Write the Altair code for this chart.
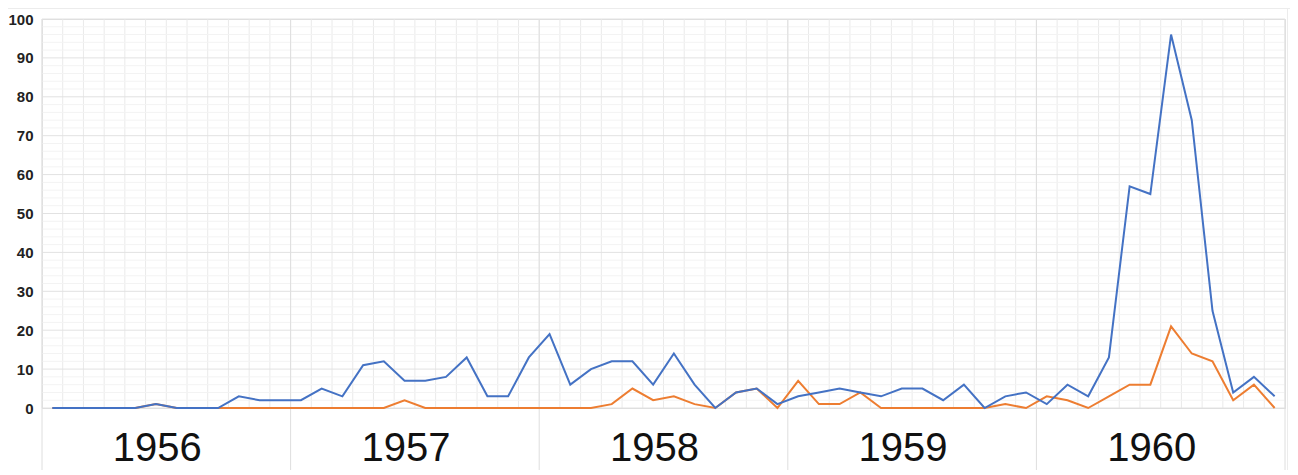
import altair as alt
import pandas as pd

# Monthly values, Jan 1956 .. Dec 1960
blue = [0, 0, 0, 0, 0, 1, 0, 0, 0, 3, 2, 2,
        2, 5, 3, 11, 12, 7, 7, 8, 13, 3, 3, 13,
        19, 6, 10, 12, 12, 6, 14, 6, 0, 4, 5, 1,
        3, 4, 5, 4, 3, 5, 5, 2, 6, 0, 3, 4,
        1, 6, 3, 13, 57, 55, 96, 74, 25, 4, 8, 3]
orange = [0, 0, 0, 0, 0, 1, 0, 0, 0, 0, 0, 0,
          0, 0, 0, 0, 0, 2, 0, 0, 0, 0, 0, 0,
          0, 0, 0, 1, 5, 2, 3, 1, 0, 4, 5, 0,
          7, 1, 1, 4, 0, 0, 0, 0, 0, 0, 1, 0,
          3, 2, 0, 3, 6, 6, 21, 14, 12, 2, 6, 0]
years = ["1956", "1957", "1958", "1959", "1960"]
y_ticks = list(range(0, 101, 10))
y_minor = [v for v in range(0, 101, 2) if v % 10]

W, H = 1243, 389
FONT = "Liberation Sans Narrow, Arial Narrow, Liberation Sans, Arial, sans-serif"

n = len(blue)
xscale = alt.Scale(domain=[0, n], nice=False, zero=False)
yscale = alt.Scale(domain=[0, 100], nice=False)
yaxis = alt.Axis(values=y_ticks, grid=False, ticks=False, domain=False, title=None,
                 labelFont=FONT, labelFontWeight="bold", labelFontSize=15,
                 labelColor="#222222", labelPadding=9)

blue_df = pd.DataFrame({"m": list(range(n)), "v": blue})
orange_df = pd.DataFrame({"m": list(range(n)), "v": orange})
vgrid_df = pd.DataFrame({"g": list(range(n + 1))})
sep_df = pd.DataFrame({"g": list(range(0, n + 1, 12))})
hmaj_df = pd.DataFrame({"t": y_ticks})
hmin_df = pd.DataFrame({"t": y_minor})
year_df = pd.DataFrame({"year": years, "idx": list(range(len(years)))})

# faint chart border (top and right)
border_top = alt.Chart(hmaj_df).mark_rule(color="#ececec", strokeWidth=1).encode(
    x=alt.value(-34), x2=alt.value(W + 5), y=alt.value(-10.5))
border_right = alt.Chart(hmaj_df).mark_rule(color="#ececec", strokeWidth=1).encode(
    x=alt.value(W + 2.5), y=alt.value(-11), y2=alt.value(H + 80))

vgrid = alt.Chart(vgrid_df).mark_rule(color="#eaeaea", strokeWidth=1).encode(
    x=alt.X("g:Q", scale=xscale, axis=None), y=alt.value(0), y2=alt.value(H))
hminor = alt.Chart(hmin_df).mark_rule(color="#f3f3f3", strokeWidth=1).encode(
    y=alt.Y("t:Q", scale=yscale, axis=yaxis), x=alt.value(0), x2=alt.value(W))
hmajor = alt.Chart(hmaj_df).mark_rule(color="#e2e2e2", strokeWidth=1).encode(
    y=alt.Y("t:Q", scale=yscale, axis=yaxis), x=alt.value(0), x2=alt.value(W))
seps = alt.Chart(sep_df).mark_rule(color="#dedede", strokeWidth=1).encode(
    x=alt.X("g:Q", scale=xscale, axis=None), y=alt.value(0), y2=alt.value(H + 80))

line_orange = alt.Chart(orange_df).transform_calculate(xp="datum.m + 0.5").mark_line(
    color="#ED7D31", strokeWidth=2).encode(
    x=alt.X("xp:Q", scale=xscale, axis=None),
    y=alt.Y("v:Q", scale=yscale, axis=yaxis))
line_blue = alt.Chart(blue_df).transform_calculate(xp="datum.m + 0.5").mark_line(
    color="#4472C4", strokeWidth=2).encode(
    x=alt.X("xp:Q", scale=xscale, axis=None),
    y=alt.Y("v:Q", scale=yscale, axis=yaxis))

year_text = alt.Chart(year_df).transform_calculate(xc="datum.idx * 12 + 6").mark_text(
    font=FONT, fontSize=40, color="#111111", baseline="alphabetic", align="center",
    dx=-9).encode(
    x=alt.X("xc:Q", scale=xscale, axis=None), y=alt.value(H + 53), text="year:N")

chart = alt.layer(border_top, border_right, vgrid, hminor, hmajor, seps,
                  line_orange, line_blue, year_text).properties(
    width=W, height=H,
    autosize=alt.AutoSizeParams(type="none"),
    padding={"left": 34, "top": 11, "right": 5, "bottom": 62},
).configure_view(stroke=None).configure(background="white")

chart.save("out.html", embed_options={"renderer": "svg", "actions": False})
